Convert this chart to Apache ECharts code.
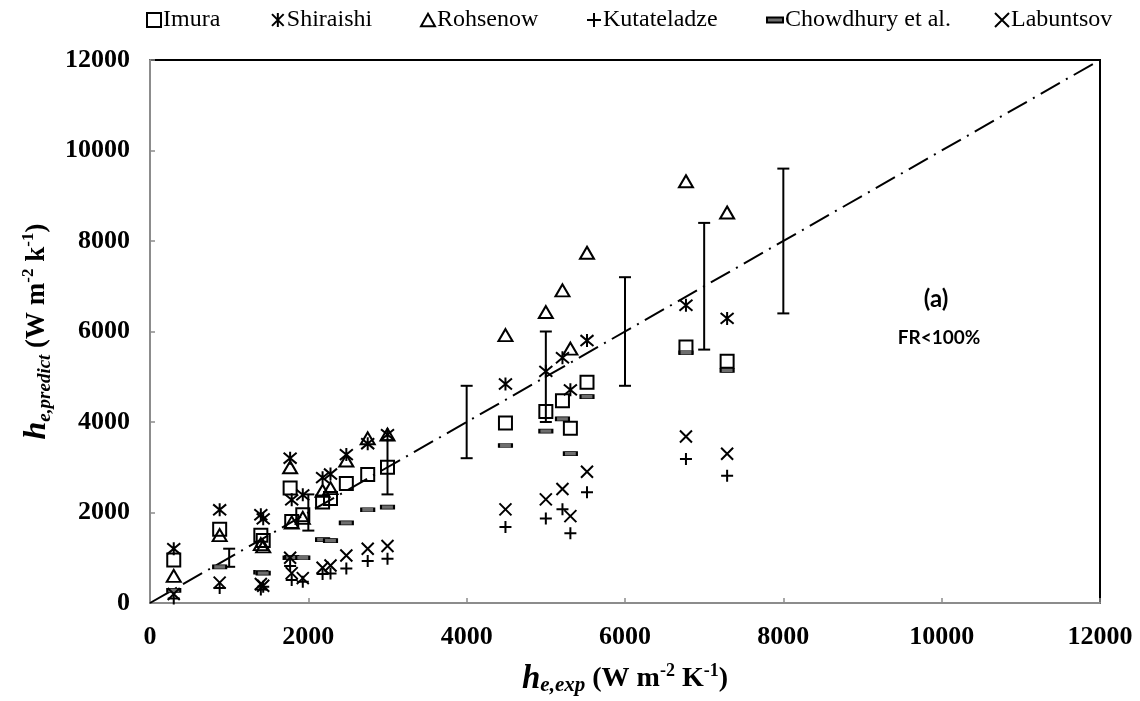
<!DOCTYPE html>
<html>
<head>
<meta charset="utf-8">
<script src="https://cdn.jsdelivr.net/npm/echarts@6/dist/echarts.min.js"></script>
<style>
html,body{margin:0;padding:0;background:#fff;}
#chart{width:1140px;height:701px;}
</style>
</head>
<body>
<div id="chart"></div>
<script>
// ---- Data ----
const xExp        = [300, 880, 1400, 1430, 1770, 1790, 1930, 2180, 2280, 2480, 2750, 3000, 4490, 5000, 5210, 5310, 5520, 6770, 7290];
const imura       = [950, 1630, 1500, 1380, 2540, 1800, 1950, 2230, 2310, 2640, 2840, 3000, 3980, 4230, 4470, 3860, 4880, 5660, 5340];
const shiraishi   = [1200, 2060, 1950, 1860, 3200, 2280, 2390, 2770, 2850, 3280, 3520, 3720, 4840, 5120, 5420, 4710, 5800, 6580, 6290];
const rohsenow    = [600, 1500, 1300, 1250, 3000, 1780, 1880, 2480, 2540, 3150, 3640, 3720, 5920, 6430, 6910, 5620, 7740, 9320, 8630];
const kutateladze = [100, 330, 300, 360, 820, 510, 470, 640, 650, 760, 930, 980, 1680, 1870, 2070, 1540, 2450, 3180, 2810];
const chowdhury   = [280, 800, 680, 660, 1000, 1010, 1000, 1400, 1380, 1770, 2060, 2120, 3480, 3800, 4070, 3300, 4560, 5530, 5140];
const labuntsov   = [200, 450, 420, 380, 1000, 660, 550, 780, 830, 1050, 1200, 1260, 2070, 2290, 2520, 1920, 2900, 3680, 3300];

const errX    = [1000, 2000, 3000, 4000, 5000, 6000, 7000, 8000];
const errLow  = [800, 1600, 2400, 3200, 4000, 4800, 5600, 6400];
const errHigh = [1200, 2400, 3600, 4800, 6000, 7200, 8400, 9600];

const diagEnds = [0, 12000];
const axisTicks = [0, 2000, 4000, 6000, 8000, 10000, 12000];

const seriesNames = ['Imura', 'Shiraishi', 'Rohsenow', 'Kutateladze', 'Chowdhury et al.', 'Labuntsov'];

// ---- Styling ----
const SERIF = "'Liberation Serif', 'Times New Roman', serif";
const pair = arr => xExp.map((x, i) => [x, arr[i]]);

const SYM = {
  square: 'path://M0,0L10,0L10,10L0,10Z',
  aster: 'path://M0,0L10,10M10,0L0,10M5,-1L5,11',
  tri: 'path://M5,0L10,9L0,9Z',
  plus: 'path://M5,0L5,10M0,5L10,5',
  cross: 'path://M0,0L10,10M10,0L0,10',
  dash: 'path://M0,0L16,0L16,5L0,5Z'
};

function scat(name, data, symbol, size, extra) {
  return Object.assign({
    name: name,
    type: 'scatter',
    data: data,
    symbol: symbol,
    symbolSize: size,
    itemStyle: { color: 'transparent', borderColor: '#000', borderWidth: 2, opacity: 1 },
    emphasis: { disabled: true },
    z: 3
  }, extra || {});
}

const series = [
  {
    name: 'diag', type: 'line',
    data: [[diagEnds[0], diagEnds[0]], [diagEnds[1], diagEnds[1]]],
    symbol: 'none', silent: true,
    lineStyle: { color: '#000', width: 2, type: [22, 7, 2, 7] },
    z: 2
  },
  {
    name: 'err', type: 'custom',
    data: errX.map((x, i) => [x, errLow[i], errHigh[i]]),
    renderItem: function (params, api) {
      const x = api.value(0);
      const lo = api.coord([x, api.value(1)]);
      const hi = api.coord([x, api.value(2)]);
      const w = 6;
      const st = { stroke: '#000', lineWidth: 2 };
      return {
        type: 'group',
        children: [
          { type: 'line', shape: { x1: lo[0], y1: lo[1], x2: hi[0], y2: hi[1] }, style: st },
          { type: 'line', shape: { x1: lo[0] - w, y1: lo[1], x2: lo[0] + w, y2: lo[1] }, style: st },
          { type: 'line', shape: { x1: hi[0] - w, y1: hi[1], x2: hi[0] + w, y2: hi[1] }, style: st }
        ]
      };
    },
    silent: true,
    z: 2
  },
  scat('Imura', pair(imura), SYM.square, 13),
  scat('Shiraishi', pair(shiraishi), SYM.aster, 13),
  scat('Rohsenow', pair(rohsenow), SYM.tri, [14, 12]),
  scat('Kutateladze', pair(kutateladze), SYM.plus, 12),
  scat('Chowdhury et al.', pair(chowdhury), SYM.dash, [13, 4],
       { itemStyle: { color: '#6e6e6e', borderColor: '#000', borderWidth: 1.2, opacity: 1 } }),
  scat('Labuntsov', pair(labuntsov), SYM.cross, 12)
];

const legendLefts = [146, 271, 420, 586, 766, 994];
const legendIcons = [SYM.square, SYM.aster, SYM.tri, SYM.plus, SYM.dash, SYM.cross];
const legends = seriesNames.map((n, i) => ({
  data: [{ name: n, icon: legendIcons[i] }],
  left: legendLefts[i],
  top: 8,
  padding: 0,
  itemWidth: i === 4 ? 16 : 14,
  itemHeight: 14,
  itemGap: 0,
  selectedMode: false,
  textStyle: { fontFamily: SERIF, fontSize: 24, color: '#000', padding: [0, 0, 0, -3] }
}));

const richX = {
  hi: { fontFamily: SERIF, fontSize: 33, fontWeight: 'bold', fontStyle: 'italic', color: '#000', lineHeight: 34, verticalAlign: 'middle' },
  subi: { fontFamily: SERIF, fontSize: 21, fontWeight: 'bold', fontStyle: 'italic', color: '#000', lineHeight: 20, verticalAlign: 'bottom' },
  n: { fontFamily: SERIF, fontSize: 28, fontWeight: 'bold', color: '#000', lineHeight: 34, verticalAlign: 'middle' },
  sup: { fontFamily: SERIF, fontSize: 18, fontWeight: 'bold', color: '#000', lineHeight: 17, verticalAlign: 'top' }
};
const richY = {
  hi: { fontFamily: SERIF, fontSize: 32, fontWeight: 'bold', fontStyle: 'italic', color: '#000', lineHeight: 34, verticalAlign: 'middle' },
  subi: { fontFamily: SERIF, fontSize: 19, fontWeight: 'bold', fontStyle: 'italic', color: '#000', lineHeight: 20, verticalAlign: 'bottom' },
  n: { fontFamily: SERIF, fontSize: 27, fontWeight: 'bold', color: '#000', lineHeight: 34, verticalAlign: 'middle' },
  sup: { fontFamily: SERIF, fontSize: 17, fontWeight: 'bold', color: '#000', lineHeight: 17, verticalAlign: 'top' }
};

const axisCommon = {
  type: 'value',
  min: axisTicks[0],
  max: axisTicks[axisTicks.length - 1],
  interval: axisTicks[1] - axisTicks[0],
  splitLine: { show: false },
  axisLine: { show: true, onZero: false, lineStyle: { color: '#8c8c8c', width: 2 } },
  axisTick: { show: true, inside: true, length: 5, lineStyle: { color: '#8c8c8c', width: 1.5 } },
  axisLabel: { fontFamily: SERIF, fontSize: 26, fontWeight: 'bold', color: '#000', formatter: v => String(v) },
  nameLocation: 'middle'
};

const option = {
  animation: false,
  backgroundColor: '#fff',
  legend: legends,
  grid: { left: 150, right: 40, top: 60, bottom: 98, show: true, borderColor: '#000', borderWidth: 2, backgroundColor: 'transparent' },
  xAxis: Object.assign({}, axisCommon, {
    axisLabel: Object.assign({}, axisCommon.axisLabel, { margin: 21 }),
    name: '{hi|h}{subi|e,exp}{n| (W m}{sup|-2}{n| K}{sup|-1}{n|)}',
    nameGap: 59,
    nameTextStyle: { rich: richX }
  }),
  yAxis: Object.assign({}, axisCommon, {
    axisLabel: Object.assign({}, axisCommon.axisLabel, { margin: 20 }),
    name: '{hi|h}{subi|e,predict}{n| (W m}{sup|-2}{n| k}{sup|-1}{n|)}',
    nameGap: 94,
    nameRotate: 90,
    nameTextStyle: { rich: richY }
  }),
  graphic: [
    { type: 'text', x: 936, y: 299, style: { text: '(a)', font: "bold 24px Lato, 'Open Sans', sans-serif", fill: '#000', textAlign: 'center', textVerticalAlign: 'middle' } },
    { type: 'text', x: 939, y: 338, style: { text: 'FR<100%', font: "bold 19px Lato, 'Open Sans', sans-serif", fill: '#000', textAlign: 'center', textVerticalAlign: 'middle' } }
  ],
  series: series
};

const chart = echarts.init(document.getElementById('chart'), null, { renderer: 'canvas' });
chart.setOption(option);
</script>
</body>
</html>
